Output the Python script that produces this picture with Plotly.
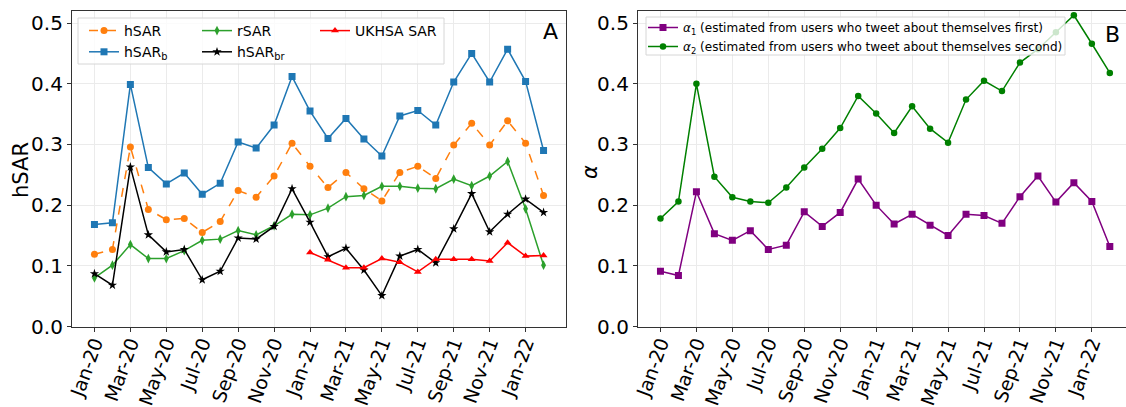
import plotly.graph_objects as go

months = ["Jan-20", "Feb-20", "Mar-20", "Apr-20", "May-20", "Jun-20", "Jul-20", "Aug-20",
          "Sep-20", "Oct-20", "Nov-20", "Dec-20", "Jan-21", "Feb-21", "Mar-21", "Apr-21",
          "May-21", "Jun-21", "Jul-21", "Aug-21", "Sep-21", "Oct-21", "Nov-21", "Dec-21",
          "Jan-22", "Feb-22"]
tick_labels = months[::2]

hsar = [0.119, 0.127, 0.296, 0.193, 0.176, 0.178, 0.155, 0.173, 0.224, 0.213, 0.248, 0.302, 0.264,
        0.229, 0.254, 0.227, 0.207, 0.254, 0.264, 0.244, 0.299, 0.335, 0.299, 0.339, 0.302, 0.216]
hsar_b = [0.168, 0.171, 0.399, 0.262, 0.235, 0.253, 0.218, 0.236, 0.304, 0.294, 0.332, 0.412, 0.355,
          0.310, 0.343, 0.309, 0.281, 0.347, 0.356, 0.332, 0.403, 0.450, 0.403, 0.457, 0.404, 0.290]
rsar = [0.080, 0.101, 0.135, 0.112, 0.112, 0.125, 0.142, 0.144, 0.158, 0.151, 0.166, 0.185, 0.184,
        0.195, 0.214, 0.216, 0.231, 0.231, 0.228, 0.227, 0.243, 0.232, 0.248, 0.272, 0.194, 0.101]
hsar_br = [0.087, 0.068, 0.263, 0.151, 0.123, 0.127, 0.077, 0.091, 0.146, 0.144, 0.165, 0.227, 0.172,
           0.115, 0.129, 0.093, 0.051, 0.116, 0.127, 0.105, 0.161, 0.219, 0.156, 0.185, 0.210, 0.188]
ukhsa = [None] * 12 + [0.122, 0.110, 0.097, 0.097, 0.112, 0.106, 0.090, 0.111, 0.111, 0.111,
                       0.108, 0.138, 0.116, 0.117]
alpha1 = [0.091, 0.084, 0.222, 0.153, 0.142, 0.158, 0.127, 0.134, 0.189, 0.165, 0.188, 0.243, 0.200,
          0.169, 0.185, 0.167, 0.150, 0.185, 0.183, 0.170, 0.214, 0.248, 0.205, 0.237, 0.206, 0.132]
alpha2 = [0.178, 0.206, 0.400, 0.247, 0.213, 0.206, 0.204, 0.229, 0.262, 0.293, 0.327, 0.380, 0.351,
          0.319, 0.363, 0.326, 0.303, 0.374, 0.405, 0.388, 0.435, 0.457, 0.485, 0.513, 0.466, 0.418]

FONT = "DejaVu Sans"
W, H = 1126, 407

fig = go.Figure()

def add(y, name, color, symbol, size, dash="solid", xa="x", ya="y", legend="legend", rank=1):
    fig.add_trace(go.Scatter(
        x=months, y=y, name=name, mode="lines+markers",
        line=dict(color=color, width=1.5, dash=dash),
        marker=dict(color=color, symbol=symbol, size=size, line=dict(width=0)),
        xaxis=xa, yaxis=ya, legend=legend, legendrank=rank,
    ))

add(hsar, "hSAR", "#ff7f0e", "circle", 7, dash="dash", legend="legend", rank=1)
add(hsar_b, "hSAR<sub>b</sub>", "#1f77b4", "square", 7, legend="legend", rank=2)
add(rsar, "rSAR", "#2ca02c", "diamond-tall", 7, legend="legend2", rank=1)
add(hsar_br, "hSAR<sub>br</sub>", "black", "star", 7, legend="legend2", rank=2)
add(ukhsa, "UKHSA SAR", "red", "triangle-up", 7, legend="legend3", rank=1)

add(alpha1, "<i>α</i><sub>1</sub> (estimated from users who tweet about themselves first)",
    "purple", "square", 7, xa="x2", ya="y2", legend="legend4", rank=1)
add(alpha2, "<i>α</i><sub>2</sub> (estimated from users who tweet about themselves second)",
    "green", "circle", 6.5, xa="x2", ya="y2", legend="legend4", rank=2)

def px_x(p):
    return p / W

def px_y(p):
    return 1 - p / H

ydom = [px_y(326.5), px_y(11)]
axis_common = dict(
    showline=True, linecolor="#333333", linewidth=1.2,
    ticks="outside", ticklen=4, tickcolor="#333333",
    showgrid=True, gridcolor="#ebebeb", gridwidth=1,
    zeroline=False, automargin=False,
)
xaxis_extra = dict(type="category", tickvals=tick_labels, ticktext=tick_labels,
                   tickangle=-70, mirror=True, ticklabelstandoff=-7,
                   tickfont=dict(family=FONT, size=19, color="black"))
yaxis_extra = dict(range=[0, 0.52], tickvals=[0, 0.1, 0.2, 0.3, 0.4, 0.5], tickformat=".1f",
                   tickfont=dict(family=FONT, size=20, color="black"))

fig.update_layout(
    template="none",
    width=W, height=H,
    margin=dict(l=0, r=0, t=0, b=0, autoexpand=False),
    paper_bgcolor="white", plot_bgcolor="white",
    font=dict(family=FONT, color="black"),
    xaxis=dict(domain=[px_x(72), px_x(566)], range=[-1.25, 26.25], anchor="y",
               **xaxis_extra, **axis_common),
    yaxis=dict(domain=ydom, mirror=True, anchor="x", **yaxis_extra, **axis_common),
    xaxis2=dict(domain=[px_x(638), 1.0], range=[-1.25, 25.9], anchor="y2",
                **xaxis_extra, **axis_common),
    yaxis2=dict(domain=ydom, anchor="x2", **yaxis_extra, **axis_common),
    showlegend=True,
)

leg_common = dict(bgcolor="rgba(0,0,0,0)", borderwidth=0, orientation="v",
                  xanchor="left", yanchor="top", traceorder="normal",
                  font=dict(family=FONT, size=14, color="black"), tracegroupgap=0)
fig.update_layout(
    legend=dict(x=px_x(84), y=px_y(15), **leg_common),
    legend2=dict(x=px_x(197), y=px_y(15), **leg_common),
    legend3=dict(x=px_x(315), y=px_y(15), **leg_common),
    legend4=dict(x=px_x(643), y=px_y(13), **{**leg_common, "font": dict(family=FONT, size=12, color="black")}),
)

# legend frames
fig.add_shape(type="rect", xref="paper", yref="paper",
              x0=px_x(78), x1=px_x(444), y0=px_y(64), y1=px_y(18),
              fillcolor="rgba(255,255,255,0.8)", line=dict(color="#d6d6d6", width=1), layer="above")
fig.add_shape(type="rect", xref="paper", yref="paper",
              x0=px_x(646), x1=px_x(1065), y0=px_y(55), y1=px_y(17),
              fillcolor="rgba(255,255,255,0.8)", line=dict(color="#d6d6d6", width=1), layer="above")

def label(text, x, y, size, angle=0):
    fig.add_annotation(text=text, xref="paper", yref="paper", x=px_x(x), y=px_y(y),
                       xanchor="center", yanchor="middle", showarrow=False, textangle=angle,
                       font=dict(family=FONT, size=size, color="black"))

label("A", 550, 32, 22)
label("B", 1112, 34, 22)
label("hSAR", 21, 170, 21, -90)
label("<i>α</i>", 590, 172, 21, -90)

fig.write_html("out.html", config={"displayModeBar": False},
               post_script="document.body.style.margin='0';document.body.style.overflow='hidden';")
